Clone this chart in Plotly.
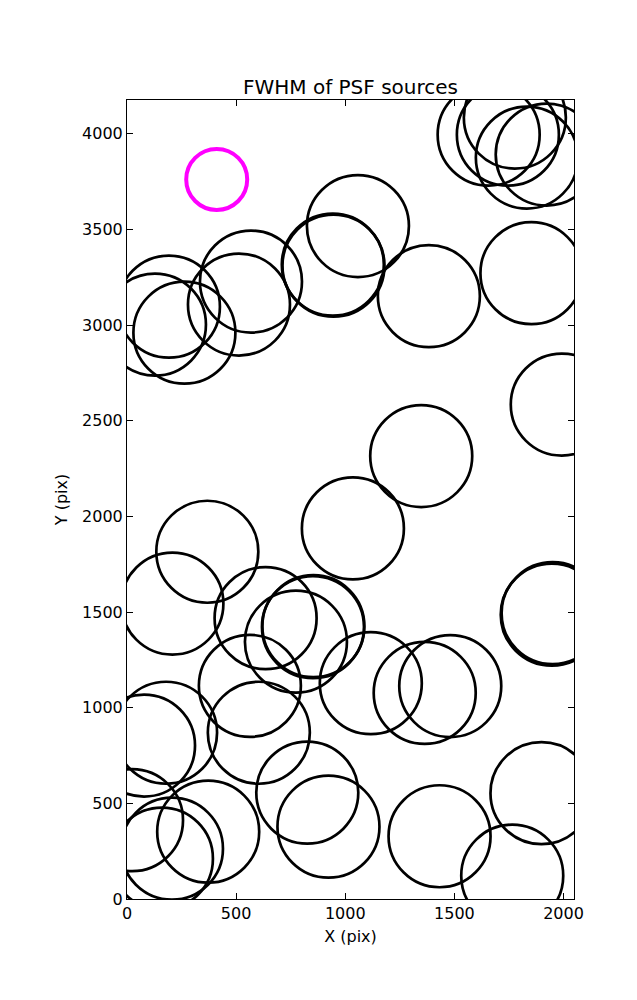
import plotly.graph_objects as go

# Source positions (pix)
src_x = [192, 128, 263, 568, 513, 943, 946, 1058, 1383, 1853,
         1657, 1745, 1777, 1832, 1923,
         1992, 1348, 1035, 1946, 1950, 368, 208, 635, 852, 854, 774,
         563, 1117, 1364, 1481, 604, 179, 78,
         23, 206, 160, 372, 826, 923, 1432, 1899, 1765]
src_y = [3096, 3002, 2960, 3227, 3107, 3316, 3310, 3517, 3151, 3271,
         3995, 3995, 4084, 3875, 3891,
         2584, 2315, 1937, 1486, 1494, 1815, 1544, 1468, 1421, 1426, 1345,
         1114, 1128, 1077, 1113, 869, 869, 802,
         412, 263, 211, 352, 556, 378, 328, 553, 122]

# Reference (highlighted) marker
ref_x = [411]
ref_y = [3761]

x_ticks = [0, 500, 1000, 1500, 2000]
y_ticks = [0, 500, 1000, 1500, 2000, 2500, 3000, 3500, 4000]

FONT = "DejaVu Sans"

fig = go.Figure()
fig.add_trace(go.Scatter(
    x=src_x, y=src_y, mode="markers", cliponaxis=True,
    marker=dict(symbol="circle-open", size=102, color="black",
                line=dict(width=2.7, color="black")),
    showlegend=False, hoverinfo="skip"))
fig.add_trace(go.Scatter(
    x=ref_x, y=ref_y, mode="markers", cliponaxis=True,
    marker=dict(symbol="circle-open", size=61, color="#ff00ff",
                line=dict(width=4, color="#ff00ff")),
    showlegend=False, hoverinfo="skip"))

axis_common = dict(showline=True, linecolor="black", linewidth=1,
                   mirror="allticks", ticks="inside", ticklen=6,
                   tickwidth=1, tickcolor="black", showgrid=False,
                   zeroline=False,
                   tickfont=dict(family=FONT, size=16, color="black"))

fig.update_xaxes(range=[0, 2048], tickvals=x_ticks,
                 ticktext=[str(v) for v in x_ticks],
                 title=dict(text="X (pix)", font=dict(family=FONT, size=16, color="black"), standoff=8),
                 **axis_common)
fig.update_yaxes(range=[0, 4176], tickvals=y_ticks,
                 ticktext=[str(v) for v in y_ticks],
                 title=dict(text="Y (pix)", font=dict(family=FONT, size=16, color="black"), standoff=10),
                 **axis_common)

fig.update_layout(
    width=637, height=1000,
    margin=dict(l=119, r=71, t=92, b=109),
    paper_bgcolor="white", plot_bgcolor="white",
    title=dict(text="FWHM of PSF sources", x=0.5377, xanchor="center",
               y=0.921, yanchor="middle",
               font=dict(family=FONT, size=20, color="black")),
)

fig.write_html("out.html")
